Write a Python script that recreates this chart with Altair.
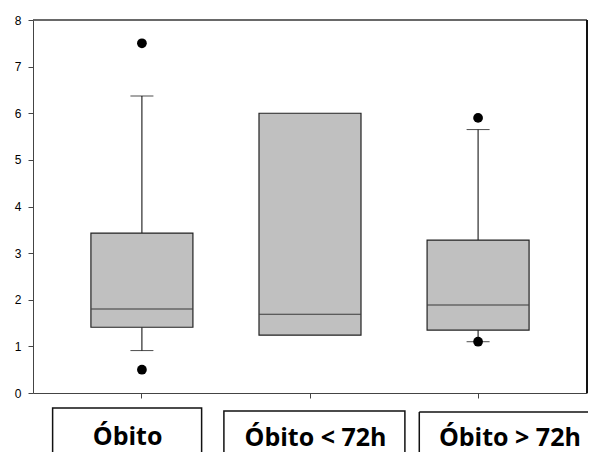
import altair as alt
import pandas as pd

categories = ["Óbito", "Óbito < 72h", "Óbito > 72h"]
q1 = [1.41, 1.24, 1.35]
median = [1.80, 1.69, 1.89]
q3 = [3.43, 6.00, 3.28]
whisker_low = [0.91, None, 1.10]
whisker_high = [6.37, None, 5.65]

outlier_cat = ["Óbito", "Óbito", "Óbito > 72h", "Óbito > 72h"]
outlier_val = [7.50, 0.50, 5.90, 1.10]

y_ticks = [0, 1, 2, 3, 4, 5, 6, 7, 8]

PW = 554  # plot width
PH = 373

boxes = pd.DataFrame({"cat": categories, "q1": q1, "med": median, "q3": q3,
                      "lo": whisker_low, "hi": whisker_high})
outl = pd.DataFrame({"cat": outlier_cat, "v": outlier_val})

xscale = alt.Scale(domain=categories, paddingInner=0, paddingOuter=0.148)
X = alt.X("cat:N", scale=xscale, sort=categories,
          axis=alt.Axis(labels=False, ticks=True, tickSize=5, title=None,
                        domainColor="#444", tickColor="#444"))
yscale = alt.Scale(domain=[0, 8], nice=False)
Y_AX = alt.Axis(values=y_ticks, title=None, grid=False, tickSize=5, labelPadding=7,
                labelFont="Liberation Sans", labelFontSize=12, labelColor="#000",
                domainColor="#444", tickColor="#444")

base = alt.Chart(boxes)

upper = base.transform_filter("datum.hi != null").mark_rule(color="#000", strokeWidth=1).encode(
    x=X, y=alt.Y("q3:Q", scale=yscale, axis=Y_AX), y2="hi:Q")
lower = base.transform_filter("datum.lo != null").mark_rule(color="#000", strokeWidth=1).encode(
    x=X, y=alt.Y("lo:Q", scale=yscale), y2="q1:Q")
cap_hi = base.transform_filter("datum.hi != null").mark_tick(color="#000", size=23, thickness=1).encode(
    x=X, y=alt.Y("hi:Q", scale=yscale))
cap_lo = base.transform_filter("datum.lo != null").mark_tick(color="#000", size=23, thickness=1).encode(
    x=X, y=alt.Y("lo:Q", scale=yscale))
box = base.mark_bar(size=102, fill="#c0c0c0", stroke="#222", strokeWidth=1.2).encode(
    x=X, y=alt.Y("q1:Q", scale=yscale), y2="q3:Q")
med = base.mark_tick(color="#000", size=101, thickness=1).encode(
    x=X, y=alt.Y("med:Q", scale=yscale))
pts = alt.Chart(outl).mark_circle(color="#000", size=95, opacity=1).encode(
    x=X, y=alt.Y("v:Q", scale=yscale))

# frame: top and right edges of the plot area
frame_top = alt.Chart(boxes).mark_rule(color="#555", strokeWidth=1).encode(
    x=alt.value(0), x2=alt.value(PW), y=alt.value(0))
frame_right = alt.Chart(boxes).mark_rule(color="#111", strokeWidth=1.6).encode(
    x=alt.value(PW), y=alt.value(0), y2=alt.value(PH))

# label boxes below the axis (the last one runs off the right edge of the page)
label_off = [-14.8, 4.4, 27.2]
text_off = [-14.3, 5.5, 31.8]
label_w = [149, 181, 172]
label_top = [388, 391, 392]
text_base = [425, 426, 426]
open_right = [False, False, True]
label_layers = []
for c, off, toff, w, t, b, op in zip(categories, label_off, text_off, label_w,
                                     label_top, text_base, open_right):
    d = pd.DataFrame({"cat": [c]})
    if not op:
        rect = alt.Chart(d).mark_bar(size=w, xOffset=off, fill="#fff", stroke="#111",
                                     strokeWidth=1.5).encode(
            x=X, y=alt.value(t), y2=alt.value(470))
        label_layers.append(rect)
    else:
        top = alt.Chart(d).mark_bar(size=w, xOffset=off, fill="#111").encode(
            x=X, y=alt.value(t - 0.75), y2=alt.value(t + 0.75))
        left = alt.Chart(d).mark_rule(xOffset=off - w / 2, color="#111", strokeWidth=1.5).encode(
            x=X, y=alt.value(t), y2=alt.value(470))
        label_layers += [top, left]
    txt = alt.Chart(d).mark_text(dx=toff, font="Open Sans", fontWeight="bold", fontSize=25,
                                 color="#000", baseline="alphabetic", align="center").encode(
        x=X, y=alt.value(b), text="cat:N")
    label_layers.append(txt)

chart = alt.layer(upper, lower, cap_hi, cap_lo, box, med, pts, frame_top, frame_right,
                  *label_layers).properties(
    width=PW, height=PH,
    autosize=alt.AutoSizeParams(type="none"),
    padding={"left": 25, "top": 12, "right": 1, "bottom": 59},
).configure_view(stroke=None)

chart.save("out.html", embed_options={"renderer": "svg", "actions": False})
